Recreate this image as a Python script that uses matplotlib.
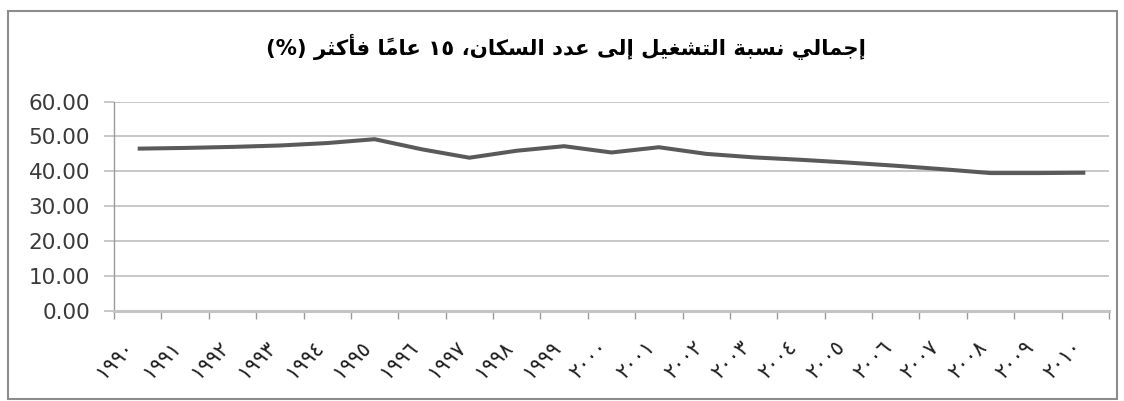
import matplotlib
matplotlib.use('Agg')
import matplotlib.pyplot as plt
from matplotlib.patches import Rectangle

TITLE = 'إجمالي نسبة التشغيل إلى عدد السكان، ١٥ عاماً فأكثر (%)'

YEARS = ['١٩٩٠', '١٩٩١', '١٩٩٢', '١٩٩٣', '١٩٩٤', '١٩٩٥', '١٩٩٦',
         '١٩٩٧', '١٩٩٨', '١٩٩٩', '٢٠٠٠', '٢٠٠١', '٢٠٠٢', '٢٠٠٣',
         '٢٠٠٤', '٢٠٠٥', '٢٠٠٦', '٢٠٠٧', '٢٠٠٨', '٢٠٠٩', '٢٠١٠']
VALUES = [46.5, 46.7, 47.0, 47.4, 48.1, 49.2, 46.3,
          43.9, 45.9, 47.2, 45.4, 46.9, 45.0, 44.0,
          43.3, 42.5, 41.6, 40.6, 39.5, 39.5, 39.6]
YTICKS = [0, 10, 20, 30, 40, 50, 60]

# Arabic presentation forms: (isolated, final[, initial, medial])
FORMS = {
    'ا': ('\uFE8D', '\uFE8E'),
    'أ': ('\uFE83', '\uFE84'),
    'إ': ('\uFE87', '\uFE88'),
    'ة': ('\uFE93', '\uFE94'),
    'د': ('\uFEA9', '\uFEAA'),
    'ر': ('\uFEAD', '\uFEAE'),
    'ى': ('\uFEEF', '\uFEF0'),
    'ب': ('\uFE8F', '\uFE90', '\uFE91', '\uFE92'),
    'ت': ('\uFE95', '\uFE96', '\uFE97', '\uFE98'),
    'ث': ('\uFE99', '\uFE9A', '\uFE9B', '\uFE9C'),
    'ج': ('\uFE9D', '\uFE9E', '\uFE9F', '\uFEA0'),
    'س': ('\uFEB1', '\uFEB2', '\uFEB3', '\uFEB4'),
    'ش': ('\uFEB5', '\uFEB6', '\uFEB7', '\uFEB8'),
    'ع': ('\uFEC9', '\uFECA', '\uFECB', '\uFECC'),
    'غ': ('\uFECD', '\uFECE', '\uFECF', '\uFED0'),
    'ف': ('\uFED1', '\uFED2', '\uFED3', '\uFED4'),
    'ك': ('\uFED9', '\uFEDA', '\uFEDB', '\uFEDC'),
    'ل': ('\uFEDD', '\uFEDE', '\uFEDF', '\uFEE0'),
    'م': ('\uFEE1', '\uFEE2', '\uFEE3', '\uFEE4'),
    'ن': ('\uFEE5', '\uFEE6', '\uFEE7', '\uFEE8'),
    'ي': ('\uFEF1', '\uFEF2', '\uFEF3', '\uFEF4'),
}
DIGITS = '0123456789٠١٢٣٤٥٦٧٨٩'


def _is_mark(c):
    return '\u064B' <= c <= '\u0652'


def shape_rtl(text):
    """Join Arabic letters and put the string in visual (LTR) order,
    since matplotlib has no complex text layout."""
    chars = list(text)

    def neighbour(i, step):
        j = i + step
        while 0 <= j < len(chars) and _is_mark(chars[j]):
            j += step
        return chars[j] if 0 <= j < len(chars) else ''

    shaped = []
    for i, c in enumerate(chars):
        f = FORMS.get(c)
        if f is None:
            shaped.append(c)
            continue
        joins_prev = len(FORMS.get(neighbour(i, -1), ())) == 4
        joins_next = len(f) == 4 and neighbour(i, 1) in FORMS
        if joins_prev and joins_next:
            shaped.append(f[3])
        elif joins_prev:
            shaped.append(f[1])
        elif joins_next:
            shaped.append(f[2])
        else:
            shaped.append(f[0])

    tokens = []
    for c in shaped:
        if _is_mark(c) and tokens:
            tokens[-1] += c
        elif c in DIGITS and tokens and tokens[-1][-1] in DIGITS:
            tokens[-1] += c
        else:
            tokens.append(c)
    mirror = {'(': ')', ')': '('}
    return ''.join(mirror.get(t, t) for t in reversed(tokens))


W, H = 1124, 401
fig = plt.figure(figsize=(W / 100, H / 100), dpi=100)
fig.patch.set_facecolor('white')

fig.patches.append(Rectangle((8 / W, 1 - 399 / H), (1117 - 8) / W, (399 - 11) / H,
                             transform=fig.transFigure, fill=False,
                             edgecolor='#8c8c8c', linewidth=1.5))

ax = fig.add_axes([114 / W, 1 - 311 / H, (1109 - 114) / W, (311 - 101.5) / H])
x = [i + 0.5 for i in range(len(VALUES))]
ax.plot(x, VALUES, color='#5a5a5a', linewidth=2.9, solid_capstyle='butt',
        zorder=3)

ax.set_xlim(0, len(VALUES))
ax.set_ylim(0, 60)
ax.set_yticks(YTICKS)
ax.set_yticklabels([f'{v:.2f}' for v in YTICKS])
ax.yaxis.grid(True, color='#c4c4c4', linewidth=1.3)
ax.set_axisbelow(True)

ax.set_xticks(range(len(VALUES) + 1))
ax.set_xticklabels([])
ax.set_xticks(x, minor=True)
ax.set_xticklabels(YEARS, minor=True, rotation=45, ha='right', va='top',
                   fontsize=15, color='#202020')

ax.tick_params(axis='y', length=7.2, width=1.3, color='#c4c4c4', pad=10,
               labelsize=15.5, labelcolor='#3a3a3a')
ax.tick_params(axis='x', which='major', length=6, width=1, color='#9a9a9a')
ax.tick_params(axis='x', which='minor', length=0, pad=19)

for side in ('top', 'right'):
    ax.spines[side].set_visible(False)
ax.spines['left'].set_color('#9a9a9a')
ax.spines['left'].set_linewidth(1)
ax.spines['bottom'].set_color('#c4c4c4')
ax.spines['bottom'].set_linewidth(2.2)

fig.text(566 / W, 1 - 47 / H, shape_rtl(TITLE), ha='center', va='center',
         fontsize=15.3, fontweight='bold', color='black')

fig.savefig('out.png', dpi=100)
